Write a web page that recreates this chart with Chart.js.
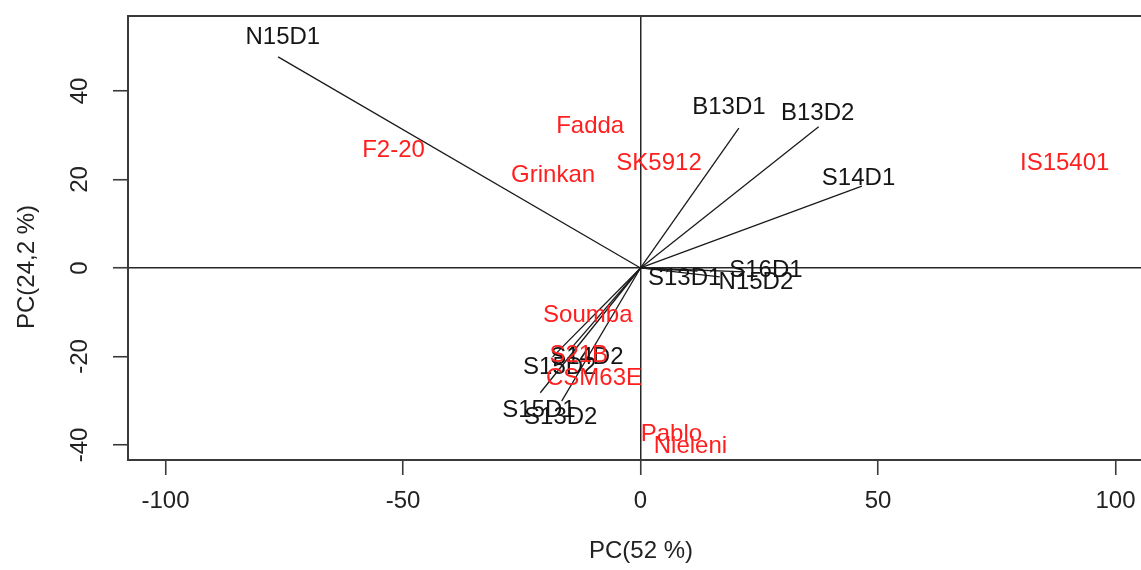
<!DOCTYPE html>
<html><head><meta charset="utf-8">
<script src="https://cdn.jsdelivr.net/npm/chart.js@4.4.1/dist/chart.umd.min.js"></script>
<style>html,body{margin:0;padding:0;overflow:hidden;background:#fff;width:1141px;height:570px}
canvas{display:block}</style></head>
<body><canvas id="c" width="1160" height="570"></canvas>
<script>
// ---- data ----
const variableNames  = ['N15D1','B13D1','B13D2','S14D1','S13D1','S16D1','N15D2','S15D2','S14D2','S15D1','S13D2'];
const arrowTipX      = [-76.3, 20.7, 37.5, 46.6, 12.0, 22.0, 16.7, -18.5, -14.9, -21.1, -16.6];
const arrowTipY      = [ 47.7, 31.6, 31.9, 18.5, -0.7, -0.9, -2.0, -20.1, -18.5, -28.2, -30.1];
const variableLabelX = [-75.3, 18.6, 37.3, 45.9,  9.3, 26.4, 24.3, -17.0, -11.3, -21.4, -16.8];
const variableLabelY = [ 52.2, 36.4, 35.0, 20.3, -2.3, -0.5, -3.2, -22.4, -20.1, -32.1, -33.7];
const genotypeNames  = ['F2-20','Fadda','Grinkan','SK5912','IS15401','Soumba','S21B','CSM63E','Pablo','Nieleni'];
const genotypeX      = [-52.0, -10.6, -18.4, 3.9, 89.3, -11.1, -13.0, -9.8, 6.5, 10.5];
const genotypeY      = [ 26.5,  31.9,  21.0, 23.7, 23.7, -10.6, -19.7, -24.9, -37.7, -40.4];
const xTicks = [-100, -50, 0, 50, 100];
const yTicks = [-40, -20, 0, 20, 40];
const xTitle = 'PC(52 %)';
const yTitle = 'PC(24,2 %)';

const FONT = '"Liberation Sans", Arial, sans-serif';
const FS = 24;
Chart.defaults.font.family = FONT;

const datasets = variableNames.map((n, i) => ({
  label: n,
  data: [{x: 0, y: 0}, {x: arrowTipX[i], y: arrowTipY[i]}],
  showLine: true,
  borderColor: '#1a1a1a',
  borderWidth: 1.3,
  pointRadius: 0,
  fill: false
}));

const textPlugin = {
  id: 'biplotText',
  afterDatasetsDraw(chart) {
    const {ctx, scales: {x, y}} = chart;
    ctx.save();
    ctx.font = FS + 'px ' + FONT;
    ctx.textAlign = 'center';
    ctx.textBaseline = 'middle';
    ctx.fillStyle = '#151515';
    variableNames.forEach((n, i) => ctx.fillText(n, x.getPixelForValue(variableLabelX[i]), y.getPixelForValue(variableLabelY[i])));
    ctx.fillStyle = '#ff1f1f';
    genotypeNames.forEach((n, i) => ctx.fillText(n, x.getPixelForValue(genotypeX[i]), y.getPixelForValue(genotypeY[i])));
    ctx.restore();
  },
  afterDraw(chart) {
    const {ctx, chartArea: a} = chart;
    ctx.save();
    ctx.strokeStyle = '#3a3a3a';
    ctx.lineWidth = 2;
    ctx.strokeRect(a.left, a.top, a.right - a.left, a.bottom - a.top);
    // y axis title
    ctx.translate(27, 267);
    ctx.rotate(-Math.PI / 2);
    ctx.font = FS + 'px ' + FONT;
    ctx.fillStyle = '#222';
    ctx.textAlign = 'center';
    ctx.textBaseline = 'middle';
    ctx.fillText(yTitle, 0, 0);
    ctx.restore();
  }
};

new Chart(document.getElementById('c'), {
  type: 'scatter',
  data: {datasets},
  options: {
    responsive: false,
    animation: false,
    events: [],
    layout: {padding: {left: 0, top: 16, right: 6, bottom: 0}},
    plugins: {legend: {display: false}, tooltip: {enabled: false}},
    scales: {
      x: {
        type: 'linear', min: -107.9, max: 108.1,
        afterBuildTicks: s => { s.ticks = xTicks.map(v => ({value: v})); },
        afterFit: s => { s.height = 110; s.paddingLeft = 0; s.paddingRight = 0; },
        border: {display: false},
        grid: {
          color: c => (c.tick && c.tick.value === 0) ? '#262626' : 'rgba(0,0,0,0)',
          lineWidth: 1.5, tickLength: 15, tickColor: '#3a3a3a', tickWidth: 1.6
        },
        ticks: {font: {size: FS}, color: '#222', padding: 12, maxRotation: 0, autoSkip: false, callback: v => String(v)},
        title: {display: true, text: xTitle, font: {size: FS}, color: '#222', padding: {top: 0, bottom: 4}}
      },
      y: {
        type: 'linear', min: -43.4, max: 56.95,
        afterBuildTicks: s => { s.ticks = yTicks.map(v => ({value: v})); },
        afterFit: s => { s.width = 128; s.paddingTop = 0; s.paddingBottom = 0; },
        border: {display: false},
        grid: {
          color: c => (c.tick && c.tick.value === 0) ? '#262626' : 'rgba(0,0,0,0)',
          lineWidth: 1.5, tickLength: 15, tickColor: '#3a3a3a', tickWidth: 1.6
        },
        ticks: {font: {size: FS}, color: '#222', padding: 15.5, minRotation: 90, maxRotation: 90, crossAlign: 'center', autoSkip: false, callback: v => String(v)}
      }
    }
  },
  plugins: [textPlugin]
});
</script>
</body></html>
